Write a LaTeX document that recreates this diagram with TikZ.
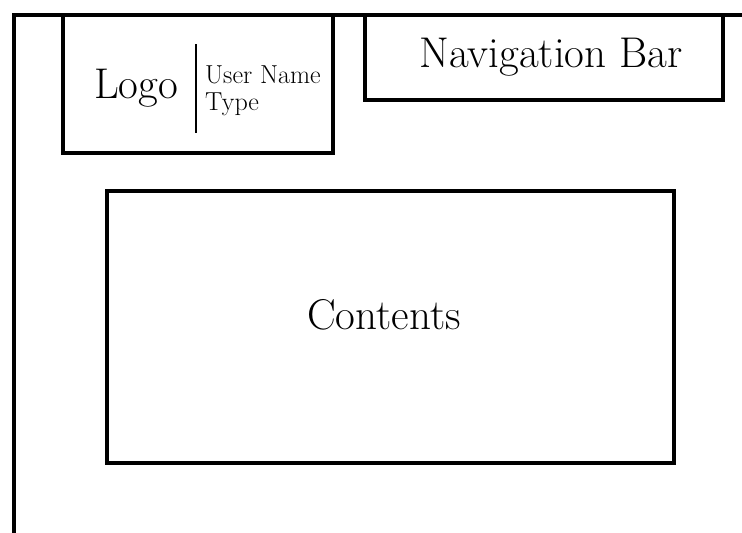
\documentclass[tikz,border=0pt]{standalone}
\usepackage{fontspec}
\begin{document}
\begin{tikzpicture}[x=1pt, y=-1pt,
  frame/.style={line width=3.2pt},
  panel/.style={draw, rectangle, line width=3.2pt, inner sep=0pt, outer sep=0pt},
  bigtext/.style={font=\fontsize{43}{50}\selectfont, inner sep=0pt, anchor=base},
  smalltext/.style={font=\fontsize{26}{30}\selectfont, inner sep=0pt, anchor=base west}]
  \useasboundingbox (0,0) rectangle (742,533);
  % page frame: top edge and left edge
  \coordinate (frameBL) at (14,536);
  \coordinate (frameTL) at (14,15);
  \coordinate (frameTR) at (745,15);
  \draw[frame] (frameBL) -- (frameTL) -- (frameTR);
  % header panels
  \node[panel, minimum width=270pt, minimum height=138pt] (logobox) at (198,84) {};
  \node[panel, minimum width=358pt, minimum height=85pt] (navbox) at (544,57.5) {};
  % main content panel
  \node[panel, minimum width=567pt, minimum height=272pt] (contentbox) at (390.5,327) {};
  % divider inside the logo panel
  \coordinate (divtop) at (196,44);
  \coordinate (divbot) at (196,133);
  \draw[line width=2.5pt] (divtop) -- (divbot);
  % labels
  \node[bigtext] (logo) at (136,98) {Logo};
  \node[smalltext] (username) at (205,83) {User Name};
  \node[smalltext] (usertype) at (205,110) {Type};
  \node[bigtext] (nav) at (551,67) {Navigation Bar};
  \node[bigtext] (contents) at (384,329) {Contents};
\end{tikzpicture}
\end{document}
